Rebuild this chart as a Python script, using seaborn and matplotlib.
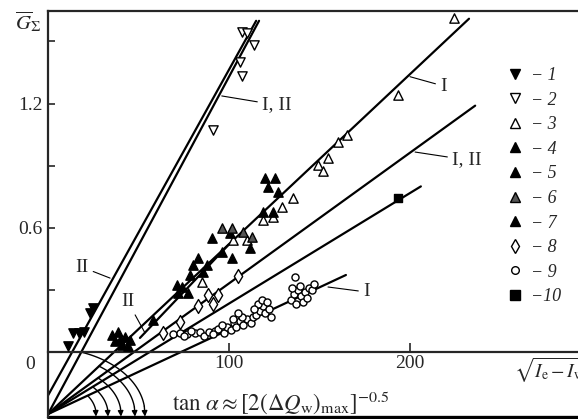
import numpy as np
import pandas as pd
import matplotlib
matplotlib.use("Agg")
import matplotlib.pyplot as plt
import seaborn as sns
from matplotlib.lines import Line2D

# ---------------- data ----------------
s1_x = [23.2, 24.9, 13.8, 17.1, 19.9, 11.0]
s1_y = [0.188, 0.213, 0.092, 0.092, 0.097, 0.029]

s2_x = [107.0, 109.8, 113.8, 106.1, 107.3, 91.3]
s2_y = [1.544, 1.540, 1.483, 1.402, 1.333, 1.072]

s3_x = [224.5, 193.5, 165.0, 160.2, 154.7, 149.2, 151.9, 135.4, 129.3, 124.3, 118.8, 110.0, 102.2, 85.1]
s3_y = [1.612, 1.241, 1.048, 1.016, 0.937, 0.903, 0.874, 0.744, 0.700, 0.652, 0.638, 0.541, 0.541, 0.338]

s4_x = [71.3, 74.0, 71.8, 77.3, 58.0, 78.5]
s4_y = [0.324, 0.314, 0.285, 0.285, 0.155, 0.372]

s5_x = [80.1, 87.8, 85.6, 82.9, 90.6, 96.1, 101.7, 100.6, 111.6]
s5_y = [0.420, 0.420, 0.386, 0.454, 0.551, 0.483, 0.454, 0.575, 0.502]

s6_x = [101.7, 96.1, 107.7, 112.7]
s6_y = [0.600, 0.600, 0.580, 0.556]

s7_x = [35.4, 38.7, 42.5, 45.3, 39.8, 37.0, 40.9, 44.2, 119.9, 125.4, 121.5, 127.1, 118.8, 124.3]
s7_y = [0.082, 0.097, 0.072, 0.058, 0.058, 0.053, 0.034, 0.029, 0.841, 0.841, 0.797, 0.773, 0.676, 0.676]

s8_x = [105.0, 88.4, 94.0, 91.0, 83.0, 73.0, 63.5]
s8_y = [0.367, 0.275, 0.275, 0.232, 0.222, 0.145, 0.092]

s9_x = [69, 73, 77, 81, 84, 79, 75,
        86, 89, 92, 94, 97, 99, 96, 101, 103, 91,
        104, 106, 108, 110, 107, 112, 113, 102, 105,
        115, 117, 119, 116, 120, 122, 118, 121, 114, 123,
        134, 136, 138, 140, 142, 139, 144, 146, 137, 141, 135, 143, 147, 136.5]
s9_y = [0.085, 0.090, 0.085, 0.090, 0.095, 0.100, 0.078,
        0.075, 0.095, 0.100, 0.110, 0.090, 0.120, 0.130, 0.105, 0.140, 0.085,
        0.120, 0.150, 0.130, 0.160, 0.170, 0.140, 0.170, 0.160, 0.190,
        0.180, 0.200, 0.220, 0.230, 0.190, 0.210, 0.250, 0.240, 0.210, 0.170,
        0.250, 0.280, 0.300, 0.270, 0.290, 0.320, 0.310, 0.300, 0.230, 0.240, 0.310, 0.260, 0.330, 0.360]

s10_x = [193.4]
s10_y = [0.744]

# fitted straight lines (end points)
lineA_x = [0, 116.6];  lineA_y = [-0.30, 1.60]    # I, II (steep)
lineB_x = [0, 115.0];  lineB_y = [-0.21, 1.60]    # II (steep, second)
lineC_x = [0, 232.6];  lineC_y = [-0.30, 1.61]    # I
lineD_x = [0, 236.0];  lineD_y = [-0.30, 1.19]    # I, II
lineE_x = [0, 206.0];  lineE_y = [-0.30, 0.80]
lineF_x = [0, 164.6];  lineF_y = [-0.30, 0.372]   # I
lineII_x = [50.8, 100.0]; lineII_y = [0.068, 0.52]  # II (short)

legend_labels = ["\u2212 1", "\u2212 2", "\u2212 3", "\u2212 4", "\u2212 5",
                 "\u2212 6", "\u2212 7", "\u2212 8", "\u2212 9", "\u221210"]

# ---------------- style ----------------
sns.set_style("ticks")
plt.rcParams["font.family"] = ["Liberation Serif", "DejaVu Serif"]
plt.rcParams["mathtext.fontset"] = "stix"

W, H = 578, 419
fig = plt.figure(figsize=(W / 100, H / 100), dpi=100)
x0px, top_px, bot_px = 48, 10.7, 417
pxx, pxy = 1.81, 207.0
ax = fig.add_axes([x0px / W, (H - bot_px) / H, (600 - x0px) / W, (bot_px - top_px) / H])
ax.set_xlim(0, (600 - x0px) / pxx)
ax.set_ylim((352 - bot_px) / pxy, (352 - top_px) / pxy)

# lines
for lx, ly in [(lineA_x, lineA_y), (lineB_x, lineB_y), (lineC_x, lineC_y),
               (lineD_x, lineD_y), (lineE_x, lineE_y), (lineF_x, lineF_y),
               (lineII_x, lineII_y)]:
    sns.lineplot(x=lx, y=ly, color="black", lw=1.6, ax=ax, sort=False, estimator=None)

# scatter series
series = [
    (s1_x, s1_y, "v", "black", 45),
    (s2_x, s2_y, "v", "white", 45),
    (s3_x, s3_y, "^", "white", 45),
    (s4_x, s4_y, "^", "black", 45),
    (s5_x, s5_y, "^", "black", 45),
    (s6_x, s6_y, "^", "#555555", 45),
    (s7_x, s7_y, "^", "black", 45),
    (s8_x, s8_y, "d", "white", 50),
    (s9_x, s9_y, "o", "white", 26),
    (s10_x, s10_y, "s", "black", 40),
]
for sx, sy, m, fc, sz in series:
    sns.scatterplot(x=sx, y=sy, marker=m, s=sz, color=fc, edgecolor="black",
                    linewidth=1.0, ax=ax, zorder=3)

# spines and ticks
ax.spines["right"].set_visible(False)
for sp in ["top", "left", "bottom"]:
    ax.spines[sp].set_linewidth(1.6)
ax.spines["bottom"].set_position(("data", 0))
ax.plot([0, 1], [0, 0], transform=ax.transAxes, color="black", lw=2.4, clip_on=False)

ax.set_xticks([100, 200])
ax.set_xticklabels(["100", "200"])
ax.tick_params(axis="x", direction="in", length=6.5, width=1.2, pad=2, labelsize=14)
ax.set_yticks([0.3, 0.6, 0.9, 1.2, 1.5])
ax.set_yticklabels(["", "0.6", "", "1.2", ""])
ax.tick_params(axis="y", direction="in", length=5, width=1.2, pad=4, labelsize=14)
ax.set_xlabel("")
ax.set_ylabel("")

ax.annotate("0", xy=(0, 0), xytext=(-13, -9), textcoords="offset points",
            ha="center", va="center", fontsize=14)
fig.text(28 / W, 1 - 22 / H, r"$\overline{G}_{\Sigma}$", ha="center", va="center", fontsize=15)
ax.text((514 - x0px) / pxx, (352 - 370) / pxy, r"$\sqrt{I_{\mathrm{e}}-I_{\mathrm{w}}}$",
        ha="left", va="center", fontsize=14)
ax.text((172 - x0px) / pxx, (352 - 411) / pxy,
        r"$\mathrm{tan}\ \alpha \approx [2(\Delta Q_{\mathrm{w}})_{\mathrm{max}}]^{-0.5}$",
        ha="left", va="baseline", fontsize=16.5)

# line labels with pointers
arrow = dict(arrowstyle="-", lw=0.8, color="black", shrinkA=1, shrinkB=0)
labels = [
    ("I, II", (96, 1.237), (118.2, 1.193), "left"),
    ("I", (200, 1.33), (216.6, 1.285), "left"),
    ("I, II", (202.8, 0.966), (223.2, 0.928), "left"),
    ("I", (154.7, 0.314), (174.0, 0.29), "left"),
    ("II", (34.3, 0.357), (18.8, 0.41), "center"),
    ("II", (53.6, 0.092), (44.2, 0.242), "center"),
]
for t, xy, xyt, ha in labels:
    ax.annotate(t, xy=xy, xytext=xyt, ha=ha, va="center", fontsize=14, arrowprops=arrow)

# angle arcs with arrows (ellipses around the common origin)
ox, oy = 0.0, -0.30
for (lx, ly), r in zip([(lineA_x, lineA_y), (lineC_x, lineC_y), (lineD_x, lineD_y),
                        (lineE_x, lineE_y), (lineF_x, lineF_y)], [97, 87, 73, 60, 48]):
    slope = (ly[1] - ly[0]) / (lx[1] - lx[0])
    a = r / pxx
    b = 0.68 * r / pxy
    t1 = np.arctan(slope * a / b)
    t = np.linspace(t1, 0.12, 40)
    ax.plot(ox + a * np.cos(t), oy + b * np.sin(t), color="black", lw=1.0)
    ax.annotate("", xy=(ox + a, -0.312), xytext=(ox + a * np.cos(0.12), oy + b * np.sin(0.12)),
                arrowprops=dict(arrowstyle="-|>", lw=1.0, color="black",
                                mutation_scale=8, shrinkA=0, shrinkB=0))

# legend
handles = []
for sx, sy, m, fc, sz in series:
    handles.append(Line2D([], [], ls="", marker=m, markerfacecolor=fc,
                          markeredgecolor="black", markersize=7 if m != "o" else 5.5,
                          markeredgewidth=1.0))
ax.legend(handles, legend_labels, loc="upper left",
          bbox_to_anchor=(497 / W, 1 - 58 / H), bbox_transform=fig.transFigure,
          frameon=False, borderpad=0, handlelength=1.0, handletextpad=0.4,
          labelspacing=0.42, prop=dict(family="Liberation Serif", style="italic", size=13))

fig.savefig("out.png", dpi=100)
